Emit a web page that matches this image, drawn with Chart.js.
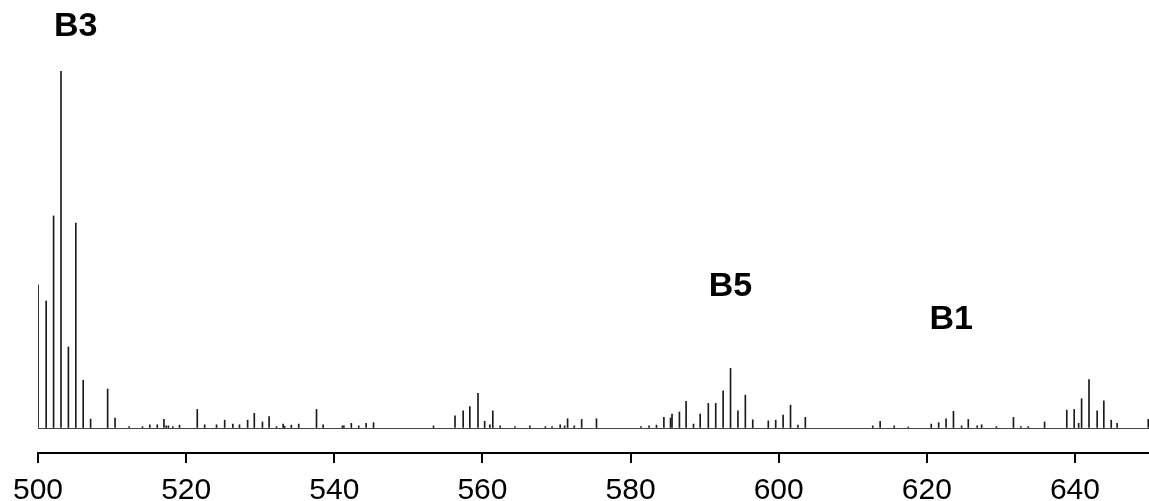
<!DOCTYPE html>
<html>
<head>
<meta charset="utf-8">
<script src="https://cdn.jsdelivr.net/npm/chart.js@4.4.1/dist/chart.umd.min.js"></script>
<style>
  html, body { margin: 0; padding: 0; background: #fff; }
  #wrap { width: 1149px; height: 501px; position: relative; }
</style>
</head>
<body>
<div id="wrap"><canvas id="c"></canvas></div>
<script>
// m/z positions of peaks
const mz = [
  500.0, 501.1, 502.1, 503.1, 504.1, 505.1, 506.1, 507.1, 509.4, 510.4,
  512.3, 514.1, 515.1, 516.1, 517.0, 517.3, 517.6, 518.2, 519.1, 521.5,
  522.5, 524.1, 525.2, 526.3, 527.2, 528.3, 529.2, 530.3, 531.2, 532.2,
  533.1, 533.3, 534.2, 535.2, 537.6, 538.5, 541.1, 541.3, 542.3, 543.3,
  544.3, 545.3, 553.4, 556.3, 557.4, 558.3, 559.4, 560.3, 561.0, 561.4,
  562.4, 564.4, 566.4, 568.5, 569.4, 570.5, 571.1, 571.5, 572.4, 573.4,
  575.4, 581.4, 582.5, 583.5, 584.5, 585.4, 585.6, 586.6, 587.5, 588.5,
  589.4, 590.5, 591.5, 592.5, 593.5, 594.5, 595.5, 596.5, 598.6, 599.6,
  600.6, 601.6, 602.6, 603.6, 612.7, 613.7, 615.6, 617.5, 620.6, 621.6,
  622.6, 623.6, 624.7, 625.6, 626.8, 627.4, 629.4, 631.7, 632.7, 633.7,
  635.9, 638.9, 639.9, 640.5, 640.9, 641.9, 643.0, 643.9, 644.9, 645.7,
  649.9
];
// relative intensities (%)
const intensity = [
  40.1, 35.6, 59.4, 100, 22.7, 57.4, 13.4, 2.5, 10.9, 2.8,
  0.4, 0.4, 0.9, 0.9, 2.4, 0.6, 0.6, 0.4, 0.8, 5.2,
  0.9, 0.9, 2.2, 1.1, 0.9, 2.2, 4.1, 1.7, 3.2, 0.4,
  1.1, 0.5, 0.8, 1.1, 5.2, 0.9, 0.6, 0.6, 1.3, 0.6,
  1.3, 1.5, 0.6, 3.4, 4.8, 6.0, 9.7, 1.9, 0.9, 4.8,
  0.6, 0.4, 0.6, 0.4, 0.4, 0.9, 0.6, 2.6, 0.6, 2.4,
  2.6, 0.4, 0.6, 0.8, 3.0, 2.8, 3.9, 4.5, 7.5, 1.1,
  3.9, 6.9, 6.9, 10.4, 16.7, 4.8, 9.2, 2.3, 2.0, 2.2,
  3.6, 6.4, 0.8, 3.0, 0.6, 1.9, 0.6, 0.3, 1.1, 1.5,
  2.6, 4.7, 0.6, 2.4, 0.6, 0.9, 0.4, 3.0, 0.4, 0.4,
  1.7, 5.0, 5.2, 1.3, 8.2, 13.6, 4.8, 7.6, 2.2, 1.3,
  2.4
];
// x axis range and ticks
const xMin = 500, xMax = 650, xStep = 20;
// ion labels
const labelTexts = ['B3', 'B5', 'B1'];
const labelMz = [505.1, 593.5, 623.3];
const labelLevel = [112.3, 39.5, 30.3];

const points = mz.map((x, i) => ({ x: x, y: intensity[i] }));

const labelPlugin = {
  id: 'ionLabels',
  afterDatasetsDraw(chart) {
    const { ctx, scales } = chart;
    ctx.save();
    ctx.font = 'bold 34px "Liberation Sans", Arial, sans-serif';
    ctx.fillStyle = '#000';
    ctx.textAlign = 'center';
    ctx.textBaseline = 'middle';
    labelTexts.forEach((t, i) => {
      ctx.fillText(t, scales.x.getPixelForValue(labelMz[i]), scales.y.getPixelForValue(labelLevel[i]));
    });
    ctx.restore();
  }
};

new Chart(document.getElementById('c'), {
  type: 'bar',
  data: {
    datasets: [{
      data: points,
      backgroundColor: '#1a1a1a',
      borderWidth: 0,
      barThickness: 1,
      minBarLength: 0
    }]
  },
  options: {
    responsive: true,
    maintainAspectRatio: false,
    animation: false,
    events: [],
    layout: { padding: { left: 37, right: 0, top: 71, bottom: 0 } },
    plugins: { legend: { display: false }, tooltip: { enabled: false } },
    scales: {
      x: {
        type: 'linear',
        min: xMin,
        max: xMax,
        offset: false,
        afterFit: (s) => { s.height = 48; },
        grid: { display: true, offset: false, drawOnChartArea: false, drawTicks: true, tickLength: 10, color: '#000', lineWidth: 2 },
        border: { display: true, color: '#000', width: 2 },
        ticks: {
          stepSize: xStep,
          includeBounds: false,
          autoSkip: false,
          maxRotation: 0,
          padding: 13,
          color: '#000',
          font: { family: '"Liberation Sans", Arial, sans-serif', size: 30, lineHeight: 1.0 }
        }
      },
      y: {
        type: 'linear',
        min: -7,
        max: 100,
        display: true,
        afterBuildTicks: (s) => { s.ticks = [{ value: 0 }]; },
        border: { display: false },
        ticks: { display: false },
        grid: {
          drawTicks: false,
          lineWidth: 1,
          color: '#444'
        }
      }
    }
  },
  plugins: [labelPlugin]
});
</script>
</body>
</html>
